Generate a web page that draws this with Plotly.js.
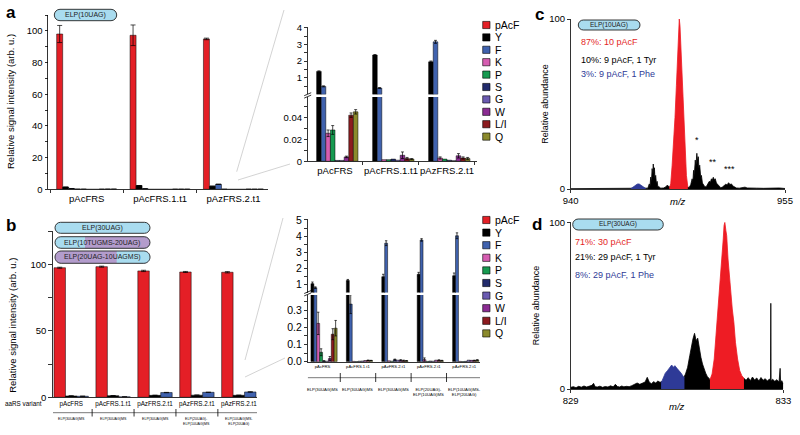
<!DOCTYPE html>
<html>
<head>
<meta charset="utf-8">
<script src="https://cdn.plot.ly/plotly-3.0.1.min.js"></script>
<style>html,body{margin:0;padding:0;background:#fff}#chart{width:800px;height:435px}</style>
</head>
<body>
<div id="chart"></div>
<script>
// ---------------- DATA ----------------
const seriesNames = ['pAcF','Y','F','K','P','S','G','W','L/I','Q'];
const seriesColors = ['#e41f26','#000000','#4062ae','#d65db1','#179a50','#222b6c','#6b5bb1','#8b2c93','#8c1b1f','#8b8a2c'];

// panel a : ELP(10UAG)
const aGroups = ['pAcFRS','pAcFRS.1.t1','pAzFRS.2.t1'];
const aVals = [
  [98.0, 97.2, 94.9],      // pAcF
  [1.38, 2.36, 1.95],      // Y
  [0.48, 0.38, 3.15],      // F
  [0.0255, 0.0015, 0.003], // K
  [0.0285, 0.0015, 0.002], // P
  [0.0008, 0.002, 0.001],  // S
  [0.0008, 0.001, 0.0006], // G
  [0.004, 0.0055, 0.005],  // W
  [0.042, 0.0025, 0.003],  // L/I
  [0.045, 0.002, 0.0025]   // Q
];
const aErr = [
  [5.4, 6.5, 0.5],
  [0.03, 0.03, 0.05],
  [0.03, 0.03, 0.09],
  [0.003, 0, 0.001],
  [0.004, 0, 0],
  [0, 0, 0],
  [0, 0, 0],
  [0.0007, 0.003, 0.002],
  [0.002, 0.001, 0.001],
  [0.002, 0.0005, 0.001]
];

// panel b : ELP(30UAG) etc.
const bGroups = ['pAcFRS','pAcFRS.1.t1','pAzFRS.2.t1','pAzFRS.2.t1','pAzFRS.2.t1'];
const bSubLabels = ['ELP(30UAG)MS','ELP(30UAG)MS','ELP(30UAG)MS','ELP(20UAG)-<br>ELP(10UAG)MS','ELP(10UAG)MS-<br>ELP(20UAG)'];
const bVals = [
  [97.4, 98.2, 95.0, 94.2, 94.0],      // pAcF
  [1.05, 1.25, 1.48, 1.63, 1.54],      // Y
  [0.80, 0.335, 3.56, 3.76, 4.02],     // F
  [0.223, 0.002, 0.005, 0.012, 0.002], // K
  [0.055, 0.001, 0.003, 0.002, 0.001], // P
  [0.004, 0.003, 0.012, 0.004, 0.002], // S
  [0.003, 0.004, 0.009, 0.003, 0.009], // G
  [0.018, 0.007, 0.008, 0.009, 0.008], // W
  [0.160, 0.008, 0.006, 0.008, 0.007], // L/I
  [0.195, 0.007, 0.005, 0.006, 0.009]  // Q
];
const bErr = [
  [0.4, 0.4, 0.5, 0.4, 0.5],
  [0.10, 0.06, 0.15, 0.12, 0.17],
  [0.05, 0.055, 0.15, 0.08, 0.18],
  [0.065, 0, 0, 0.01, 0],
  [0.02, 0, 0, 0, 0],
  [0.002, 0, 0.003, 0, 0],
  [0, 0, 0, 0, 0],
  [0.012, 0, 0.004, 0, 0],
  [0.032, 0.001, 0.003, 0.003, 0.002],
  [0.045, 0.001, 0.002, 0.002, 0.003]
];

// panel c : MS spectrum ELP(10UAG)
const cBlackMz  = [940,941,942,943,944,944.2,945.3,945.4,945.5,945.55,945.6,945.65,945.7,945.74,945.78,945.82,945.86,945.9,945.95,946.0,946.05,946.1,946.2,946.3,946.5,946.65,946.75,946.85,946.95,947.5,948.2,948.3,948.4,948.5,948.55,948.6,948.65,948.72,948.76,948.83,948.88,948.93,948.98,949.03,949.1,949.15,949.22,949.3,949.4,949.5,949.6,949.7,949.78,949.85,949.9,949.98,950.05,950.12,950.2,950.3,950.4,950.5,950.6,950.75,950.85,950.95,951.05,951.15,951.25,951.35,951.45,951.6,951.8,952.0,952.2,952.35,952.6,953.0,953.5,954.0,954.4,954.6,955];
const cBlackInt = [0.2,0.2,0.2,0.3,0.3,0.3,0.3,0.5,3,1.5,7,4,12,8,14.7,9,12.5,6,8,3,4.5,1.5,1.2,0.5,0.6,1.2,2.2,1.8,1.0,1.0,1.0,1.0,2.5,6,4,11,8,17,13,21,16,19,12,14,7,8,3.5,2.5,1.2,1.5,3,4.5,4,6,5,6.9,5.5,6,3.5,2.5,1.2,0.8,1,2,2.8,2.4,3.7,2.6,3,1.8,1.2,0.6,0.5,0.7,1.1,0.6,0.4,0.5,0.4,0.5,0.8,0.6,0.3];
const cBlueMz   = [944.2,944.35,944.5,944.6,944.7,944.8,944.9,945.0,945.1,945.25];
const cBlueInt  = [0.2,0.9,1.9,2.6,3.0,2.9,2.2,1.5,0.8,0.3];
const cRedMz    = [946.9,947.0,947.1,947.2,947.3,947.4,947.5,947.55,947.6,947.65,947.7,947.8,947.9,948.0,948.1,948.2];
const cRedInt   = [0.5,3,14,27,42,61,82,94,100,96,86,66,46,24,8,1];

// panel d : MS spectrum ELP(30UAG)
const dBlackMz  = [829.00,829.05,829.10,829.15,829.20,829.25,829.30,829.35,829.40,829.43,829.46,829.50,829.55,829.60,829.65,829.70,829.75,829.80,829.84,829.88,829.92,829.96,830.00,830.05,830.10,830.15,830.20,830.25,830.30,830.35,830.40,830.44,830.48,830.52,830.56,830.60,830.64,830.68,830.72,830.9,831.12,831.16,831.20,831.24,831.27,831.30,831.33,831.36,831.39,831.42,831.45,831.48,831.51,831.54,831.57,831.60,831.63,831.9,832.26,832.30,832.34,832.38,832.42,832.46,832.50,832.54,832.58,832.62,832.66,832.70,832.74,832.76,832.765,832.77,832.80,832.84,832.88,832.92,832.94,832.95,832.97,833.0];
const dBlackInt = [1.0,1.4,0.8,1.6,1.1,1.8,1.2,1.5,2.2,3.4,1.4,1.2,1.7,1.0,1.5,1.2,1.9,1.3,2.8,1.5,1.2,1.8,1.3,1.6,1.4,2.0,2.6,3.6,2.8,3.4,4.2,7.0,4.0,3.2,4.4,3.6,4.8,4.0,4.5,5,6.5,9.0,13,20,26,30,33.4,29,30.5,24,19,15,12,9.5,7.5,6.5,5.4,5,6.4,5.2,6.8,5.0,7.2,5.4,6.6,4.8,6.9,5.2,6.2,4.8,6.0,5.0,51.4,5.0,5.8,4.6,5.6,4.2,12.4,4.0,5.0,3.2];
const dBlueMz   = [830.70,830.74,830.78,830.82,830.86,830.90,830.93,830.96,831.00,831.04,831.08,831.12,831.14];
const dBlueInt  = [3.5,7,9.5,11,12.5,14.4,13,14,12.4,11,9.4,7.4,7];
const dRedMz    = [831.62,831.66,831.70,831.73,831.76,831.79,831.82,831.85,831.87,831.885,831.90,831.92,831.935,831.96,831.98,832.01,832.04,832.07,832.10,832.14,832.18,832.22,832.26];
const dRedInt   = [5.5,9,18,30,44,56,68,80,90,98,100,95,92,78,70,58,48,40,28,18,11,8,6.4];

const cNotes = [{t:'87%: 10 pAcF', c:'#e41f26'}, {t:'10%: 9 pAcF, 1 Tyr', c:'#000'}, {t:'3%: 9 pAcF, 1 Phe', c:'#2e3a97'}];
const dNotes = [{t:'71%: 30 pAcF', c:'#e41f26'}, {t:'21%: 29 pAcF, 1 Tyr', c:'#000'}, {t:'8%: 29 pAcF, 1 Phe', c:'#2e3a97'}];
const cStars = [{t:'*', x:948.86, y:25}, {t:'**', x:949.98, y:12}, {t:'***', x:951.1, y:7.5}];

// ---------------- HELPERS ----------------
const W = 800, H = 435;
const px = x => x / W;
const py = y => 1 - y / H;
const FONT = 'Liberation Sans, Arial, Helvetica, sans-serif';
const nz = arr => arr.map(e => e > 0 ? e : NaN);

function ax(extra) {
  return Object.assign({
    showline: true, linecolor: '#000', linewidth: 0.8,
    ticks: 'outside', ticklen: 3, tickwidth: 0.8, tickcolor: '#000',
    showgrid: false, zeroline: false, fixedrange: true,
    tickfont: {size: 9.5, color: '#000', family: FONT}
  }, extra);
}

const traces = [];
function barTrace(name, color, x, y, err, xa, ya, capw) {
  return {
    type: 'bar', name: name, x: x, y: y, xaxis: xa, yaxis: ya, showlegend: false,
    marker: {color: color, line: {color: '#000', width: 0.5}},
    error_y: {type: 'data', array: nz(err), visible: true, color: '#000', thickness: 0.7, width: capw}
  };
}

// big a
seriesNames.forEach((n, i) => traces.push(barTrace(n, seriesColors[i], aGroups, aVals[i], aErr[i], 'x', 'y', 2.5)));
// inset a upper / lower
seriesNames.forEach((n, i) => {
  const up = aVals[i].map(v => (i === 0 || v < 0.1) ? null : v);
  const lo = aVals[i].map(v => i === 0 ? null : v);
  traces.push(barTrace(n, seriesColors[i], aGroups, up, aErr[i], 'x2', 'y2', 1.5));
  traces.push(barTrace(n, seriesColors[i], aGroups, lo, aErr[i], 'x2', 'y3', 1.5));
});
// big b (pAcF, Y, F)
const bIdx = bGroups.map((g, k) => k);
[0, 1, 2].forEach(i => traces.push(barTrace(seriesNames[i], seriesColors[i], bIdx, bVals[i], bErr[i], 'x3', 'y4', 2.5)));
// inset b upper / lower
seriesNames.forEach((n, i) => {
  const up = bVals[i].map(v => (i === 0 || v < 0.5) ? null : v);
  const lo = bVals[i].map(v => i === 0 ? null : v);
  traces.push(barTrace(n, seriesColors[i], bIdx, up, bErr[i], 'x4', 'y5', 1.2));
  traces.push(barTrace(n, seriesColors[i], bIdx, lo, bErr[i], 'x4', 'y6', 1.2));
});
// spectra
function spec(x, y, color, xa, ya) {
  return {type: 'scatter', mode: 'lines', x: x, y: y, xaxis: xa, yaxis: ya, fill: 'tozeroy',
          fillcolor: color, line: {color: color, width: 0.8}, showlegend: false, hoverinfo: 'skip'};
}
traces.push(spec(cBlackMz, cBlackInt, '#000000', 'x5', 'y7'));
traces.push(spec(cBlueMz, cBlueInt, '#2e3a97', 'x5', 'y7'));
traces.push(spec(cRedMz, cRedInt, '#ee1c24', 'x5', 'y7'));
traces.push(spec(dBlackMz, dBlackInt, '#000000', 'x6', 'y8'));
traces.push(spec(dBlueMz, dBlueInt, '#2e3a97', 'x6', 'y8'));
traces.push(spec(dRedMz, dRedInt, '#ee1c24', 'x6', 'y8'));

// ---------------- AXES ----------------
// ticks every `step`, labelled where labelStep divides the value
function ticksEvery(lo, hi, step, labelStep, fmt) {
  const vals = [], text = [];
  const n = Math.round((hi - lo) / step);
  for (let k = 0; k <= n; k++) {
    const vv = +(lo + k * step).toFixed(6);
    vals.push(vv);
    const q = vv / labelStep;
    text.push(Math.abs(q - Math.round(q)) < 1e-6 ? fmt(vv) : '');
  }
  return {tickvals: vals, ticktext: text, tickmode: 'array'};
}

const layout = {
  width: W, height: H, margin: {l: 0, r: 0, t: 0, b: 0},
  paper_bgcolor: '#fff', plot_bgcolor: 'rgba(0,0,0,0)',
  font: {family: FONT, color: '#000'},
  barmode: 'group', bargap: 0.18, bargroupgap: 0,
  showlegend: false,
  xaxis: ax({domain: [px(48.3), px(268)], anchor: 'y', type: 'category', range: [-0.524, 2.47], tickson: 'boundaries', tickangle: 0}),
  yaxis: ax(Object.assign({domain: [py(189.3), py(15)], anchor: 'x', range: [0, 110]}, ticksEvery(0, 110, 10, 20, v => String(v)))),
  xaxis2: ax({domain: [px(307.7), px(477)], anchor: 'y3', type: 'category', range: [-0.4875, 2.536], tickson: 'boundaries', tickangle: 0}),
  yaxis2: ax(Object.assign({domain: [py(94.4), py(27)], anchor: 'x2', range: [0, 4.04]}, ticksEvery(0.5, 4, 0.5, 1, v => String(v)))),
  yaxis3: ax(Object.assign({domain: [py(161.3), py(97)], anchor: 'x2', range: [0, 0.0585]}, ticksEvery(0, 0.05, 0.01, 0.02, v => v === 0 ? '0' : v.toFixed(2)))),
  xaxis3: ax({domain: [px(53), px(257)], anchor: 'y4', range: [-0.434, 4.434], tickmode: 'array', tickvals: bIdx, ticktext: bGroups, ticklen: 0, tickangle: 0, tickfont: {size: 6.3, family: FONT, color: '#000'}}),
  yaxis4: ax(Object.assign({domain: [py(397.3), py(231)], anchor: 'x3', range: [0, 125], ticklen: 4}, ticksEvery(0, 125, 25, 50, v => String(v)))),
  xaxis4: ax({domain: [px(307.7), px(480)], anchor: 'y6', range: [-0.42, 4.445], tickmode: 'array', tickvals: bIdx, ticktext: bGroups, ticklen: 0, tickangle: 0, tickfont: {size: 4.2, family: FONT, color: '#000'}}),
  yaxis5: ax(Object.assign({domain: [py(292.5), py(219.3)], anchor: 'x4', range: [0.5, 5.04], tickfont: {size: 10.5, family: FONT, color: '#000'}}, ticksEvery(1, 5, 0.5, 1, v => String(v)))),
  yaxis6: ax(Object.assign({domain: [py(361.7), py(295)], anchor: 'x4', range: [0, 0.388], tickfont: {size: 10.5, family: FONT, color: '#000'}}, ticksEvery(0, 0.35, 0.05, 0.1, v => v.toFixed(1)))),
  xaxis5: ax({domain: [px(570.7), px(785)], anchor: 'y7', range: [940, 955], tickmode: 'array', tickvals: [940, 955], tickangle: 0}),
  yaxis7: ax({domain: [py(189), py(19)], anchor: 'x5', range: [0, 100], tickmode: 'array', tickvals: [0, 100]}),
  xaxis6: ax({domain: [px(570.7), px(783.3)], anchor: 'y8', range: [829, 833], tickmode: 'array', tickvals: [829, 833], tickangle: 0}),
  yaxis8: ax({domain: [py(389), py(222.3)], anchor: 'x6', range: [0, 100], tickmode: 'array', tickvals: [0, 100]}),
  shapes: [], annotations: []
};

const shapes = layout.shapes, ann = layout.annotations;
function pline(x0, y0, x1, y1, color, w) {
  shapes.push({type: 'line', xref: 'paper', yref: 'paper', x0: px(x0), y0: py(y0), x1: px(x1), y1: py(y1), line: {color: color || '#000', width: w || 0.8}});
}
function text(x, y, t, opt) {
  ann.push(Object.assign({xref: 'paper', yref: 'paper', x: px(x), y: py(y), text: t, showarrow: false,
    xanchor: 'center', yanchor: 'middle', font: {size: 9.5, family: FONT, color: '#000'}}, opt || {}));
}

// panel letters
text(11, 13, '<b>a</b>', {font: {size: 17, family: FONT, color: '#000'}});
text(11, 226, '<b>b</b>', {font: {size: 17, family: FONT, color: '#000'}});
text(539, 14, '<b>c</b>', {font: {size: 17, family: FONT, color: '#000'}});
text(537, 224, '<b>d</b>', {font: {size: 17, family: FONT, color: '#000'}});

// axis titles
text(10, 102, 'Relative signal intensity (arb. u.)', {textangle: -90});
text(13, 325.8, 'Relative signal intensity (arb. u.)', {textangle: -90});
text(544.7, 104, 'Relative abundance', {textangle: -90, font: {size: 9, family: FONT, color: '#000'}});
text(536.3, 305, 'Relative abundance', {textangle: -90, font: {size: 9, family: FONT, color: '#000'}});
text(678, 201.7, '<i>m/z</i>');
text(676.7, 406.7, '<i>m/z</i>');
text(44, 403.3, 'aaRS variant', {xanchor: 'right', font: {size: 6.3, family: FONT, color: '#000'}});

// spectrum notes
cNotes.forEach((n, k) => text(579, [42, 60, 74][k], n.t, {xanchor: 'left', font: {size: 9, family: FONT, color: n.c}}));
dNotes.forEach((n, k) => text(572.7, [241.7, 256.7, 275][k], n.t, {xanchor: 'left', font: {size: 9, family: FONT, color: n.c}}));
cStars.forEach(s => ann.push({xref: 'x5', yref: 'y7', x: s.x, y: s.y, text: s.t, showarrow: false, xanchor: 'center', yanchor: 'bottom', font: {size: 9, family: FONT, color: '#000'}}));

// legends (drawn from series arrays)
function legendAt(top, step) {
  seriesNames.forEach((n, i) => {
    const yc = top + i * step;
    shapes.push({type: 'rect', xref: 'paper', yref: 'paper', x0: px(482.7), x1: px(490), y0: py(yc + 3.6), y1: py(yc - 3.6),
      fillcolor: seriesColors[i], line: {color: '#000', width: 0.6}});
    text(493.5, yc, n, {xanchor: 'left', font: {size: 10.5, family: FONT, color: '#000'}});
  });
}
legendAt(25, 12.4);
legendAt(220, 12.6);

// group separators + sub labels for panel b
function groupLines(xa, yLine, yTop, yBot, yLab, fsize, xStart, xEnd) {
  shapes.push({type: 'line', xref: xa, yref: 'paper', x0: xStart, x1: xEnd, y0: py(yLine), y1: py(yLine), line: {color: '#555', width: 0.8}});
  for (let k = 0; k < bGroups.length - 1; k++) {
    shapes.push({type: 'line', xref: xa, yref: 'paper', x0: k + 0.5, x1: k + 0.5, y0: py(yTop), y1: py(yBot), line: {color: '#000', width: 0.8}});
  }
  bSubLabels.forEach((t, k) => ann.push({xref: xa, yref: 'paper', x: k, y: py(yLab), text: t, showarrow: false,
    xanchor: 'center', yanchor: 'top', font: {size: fsize, family: FONT, color: '#000'}}));
}
groupLines('x3', 412.7, 409, 416.5, 415.3, 3.6, -0.434, 4.434);
groupLines('x4', 377.7, 373, 382, 384.8, 4.2, -0.42, 4.445);

// broken-axis marks
function breakMark(x, y) {
  pline(x - 3.5, y + 1.2, x + 3.5, y - 1.8, '#000', 0.8);
  pline(x - 3.5, y + 3.6, x + 3.5, y + 0.6, '#000', 0.8);
}
breakMark(307.7, 94.5);
breakMark(307.7, 292.3);

// zoom connector lines
pline(236.7, 171.7, 284, 10, '#c8c8c8', 0.8);
pline(238, 180, 290, 164, '#c8c8c8', 0.8);
pline(245, 360, 283, 218, '#c8c8c8', 0.8);
pline(245, 377, 285, 358, '#c8c8c8', 0.8);

// construct pills
function pillPath(x0, x1, y0, y1, rl, rr) {
  const r = (y1 - y0) / 2, k = 0.5523 * r, ym = (y0 + y1) / 2;
  const P = (x, y) => px(x).toFixed(5) + ',' + py(y).toFixed(5);
  let d = 'M' + P(rl ? x0 + r : x0, y0) + ' L' + P(rr ? x1 - r : x1, y0);
  if (rr) d += ' C' + P(x1 - r + k, y0) + ' ' + P(x1, ym - k) + ' ' + P(x1, ym) + ' C' + P(x1, ym + k) + ' ' + P(x1 - r + k, y1) + ' ' + P(x1 - r, y1);
  else d += ' L' + P(x1, y1);
  d += ' L' + P(rl ? x0 + r : x0, y1);
  if (rl) d += ' C' + P(x0 + r - k, y1) + ' ' + P(x0, ym + k) + ' ' + P(x0, ym) + ' C' + P(x0, ym - k) + ' ' + P(x0 + r - k, y0) + ' ' + P(x0 + r, y0);
  else d += ' L' + P(x0, y0);
  return d + ' Z';
}
const BLUE = '#a9dcef', PURPLE = '#b39ccc';
function pill(x0, x1, y0, y1, label, c1, c2, split, fs) {
  shapes.push({type: 'path', xref: 'paper', yref: 'paper', path: pillPath(x0, x1, y0, y1, true, true), fillcolor: c1, line: {width: 0}});
  if (c2) shapes.push({type: 'path', xref: 'paper', yref: 'paper', path: pillPath(split, x1, y0, y1, false, true), fillcolor: c2, line: {width: 0}});
  shapes.push({type: 'path', xref: 'paper', yref: 'paper', path: pillPath(x0, x1, y0, y1, true, true), fillcolor: 'rgba(0,0,0,0)', line: {color: '#222', width: 0.9}});
  text((x0 + x1) / 2, (y0 + y1) / 2, label, {font: {size: fs || 7, family: FONT, color: '#222'}});
}
pill(54.3, 116.7, 9.3, 20.7, 'ELP(10UAG)', BLUE);
pill(55, 150, 222.3, 233.3, 'ELP(30UAG)', BLUE);
pill(55, 150, 236.7, 248.3, 'ELP(10TUGMS-20UAG)', BLUE, PURPLE, 85);
pill(55, 150, 251, 263.3, 'ELP(20UAG-10UAGMS)', PURPLE, BLUE, 116.7);
pill(578.3, 640, 20, 30, 'ELP(10UAG)', BLUE, null, 0, 6.5);
pill(572.7, 663.3, 219, 230, 'ELP(30UAG)', BLUE, null, 0, 6.5);

Plotly.newPlot('chart', traces, layout, {staticPlot: true, displayModeBar: false});
</script>
</body>
</html>
